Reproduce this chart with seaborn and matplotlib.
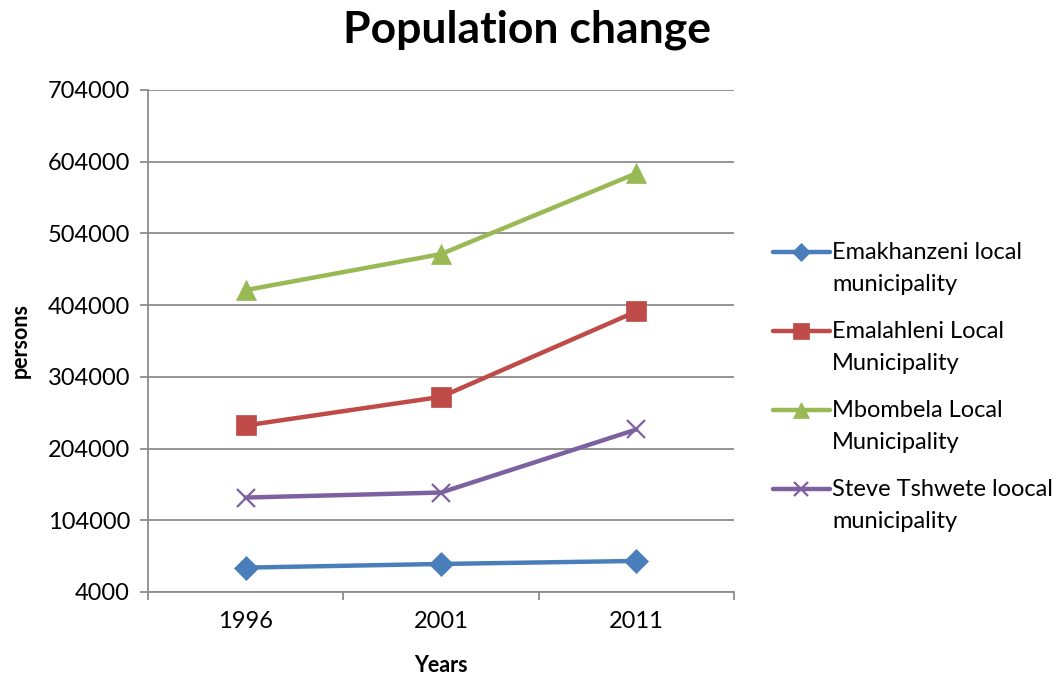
import pandas as pd
import matplotlib.pyplot as plt
import seaborn as sns
from matplotlib.lines import Line2D
from matplotlib.legend_handler import HandlerLine2D
from matplotlib.ticker import FixedLocator, NullFormatter

years = ['1996', '2001', '2011']
emakhanzeni = [38000, 43100, 47300]
emalahleni = [236200, 276100, 395200]
mbombela = [425000, 475200, 587800]
steve_tshwete = [135700, 142700, 230600]

series_names = [
    'Emakhanzeni local\nmunicipality',
    'Emalahleni Local\nMunicipality',
    'Mbombela Local\nMunicipality',
    'Steve Tshwete loocal\nmunicipality',
]
series_values = [emakhanzeni, emalahleni, mbombela, steve_tshwete]
colors = ['#4A7EBB', '#BE4B48', '#98B954', '#7D60A0']
markers = ['D', 's', '^', 'x']
msizes = [12, 14, 14, 13]
y_ticks = [4000, 104000, 204000, 304000, 404000, 504000, 604000, 704000]


# legend key sits on the first line of a two-line label, like Excel does
class FirstLineHandler(HandlerLine2D):
    def create_artists(self, legend, orig_handle, xdescent, ydescent,
                       width, height, fontsize, trans):
        return super().create_artists(legend, orig_handle, xdescent, ydescent - 24,
                                      width, height, fontsize, trans)


sns.set_style('white')
plt.rcParams['font.family'] = ['Lato', 'DejaVu Sans']
plt.rcParams['text.color'] = 'black'
plt.rcParams['axes.labelcolor'] = 'black'
plt.rcParams['xtick.color'] = 'black'
plt.rcParams['ytick.color'] = 'black'

fig = plt.figure(figsize=(10.62, 6.79), dpi=100)
ax = fig.add_axes([148 / 1062, 1 - 592 / 679, 586 / 1062, 502 / 679])

for name, vals, c, m, ms in zip(series_names, series_values, colors, markers, msizes):
    df = pd.DataFrame({'year': years, 'persons': vals})
    sns.lineplot(data=df, x='year', y='persons', ax=ax, color=c, marker=m,
                 markersize=ms, markeredgecolor=c, markeredgewidth=1.6 if m == 'x' else 0.5,
                 linewidth=3.2, label=name, sort=False)

ax.set_xlim(-0.5, 2.5)
ax.set_ylim(4000, 704000)
ax.set_yticks(y_ticks)
ax.set_yticklabels([str(t) for t in y_ticks])
ax.grid(axis='y', color='#8c8c8c', linewidth=1.3)
ax.set_axisbelow(True)

for side in ['top', 'right']:
    ax.spines[side].set_visible(False)
for side in ['left', 'bottom']:
    ax.spines[side].set_color('#8c8c8c')
    ax.spines[side].set_linewidth(1.3)

ax.tick_params(axis='y', direction='out', length=6, color='#8c8c8c', width=1.3,
               labelsize=17, pad=7, left=True)
ax.tick_params(axis='x', which='major', length=0, labelsize=17, pad=14)
ax.xaxis.set_minor_locator(FixedLocator([-0.5, 0.5, 1.5, 2.5]))
ax.xaxis.set_minor_formatter(NullFormatter())
ax.tick_params(axis='x', which='minor', direction='out', length=6, color='#8c8c8c',
               width=1.3, bottom=True)

ax.set_xlabel('Years', fontsize=15.5, fontweight='bold')
ax.xaxis.set_label_coords(0.5, -(665 - 592) / 502)
ax.set_ylabel('persons', fontsize=15.5, fontweight='bold')
ax.yaxis.set_label_coords(-(148 - 20) / 586, 0.5)
ax.xaxis.label.set_va('center')
ax.yaxis.label.set_va('center')

fig.text(527 / 1062, 1 - 30 / 679, 'Population change', fontsize=32, fontweight='bold',
         ha='center', va='center')

handles, labels = ax.get_legend_handles_labels()
leg = ax.legend(handles, labels, loc='center left', bbox_to_anchor=(773 / 1062, 1 - 387 / 679),
                bbox_transform=fig.transFigure, frameon=False, fontsize=17,
                borderpad=0, borderaxespad=0,
                handlelength=2.4, handletextpad=0.1, labelspacing=1.1, markerscale=0.8,
                handler_map={Line2D: FirstLineHandler()})
for t in leg.get_texts():
    t.set_linespacing(1.65)

fig.savefig('out.png', dpi=100)
